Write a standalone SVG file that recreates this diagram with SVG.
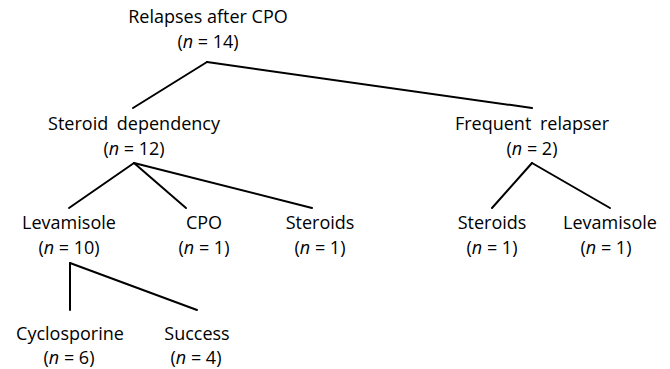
<svg xmlns="http://www.w3.org/2000/svg" width="670" height="369" viewBox="0 0 670 369">
<style>
text{font-family:"Open Sans","Noto Sans","DejaVu Sans",sans-serif;font-size:18px;fill:#000;text-anchor:middle}
.i{font-style:italic}
.w{word-spacing:4px}
.c line{stroke:#000;stroke-width:2;stroke-linecap:round}
</style>
<rect width="670" height="369" fill="#fff"/>
<g class="c" id="connectors">
<line x1="207" y1="62" x2="133" y2="108"/>
<line x1="207" y1="62" x2="532" y2="108"/>
<line x1="134" y1="163" x2="69" y2="208"/>
<line x1="134" y1="163" x2="186" y2="208"/>
<line x1="134" y1="163" x2="312" y2="208"/>
<line x1="532" y1="163" x2="492" y2="208"/>
<line x1="532" y1="163" x2="610" y2="208"/>
<line x1="70" y1="263" x2="70" y2="310"/>
<line x1="70" y1="263" x2="197" y2="310"/>
</g>
<g id="root"><text x="208" y="23">Relapses after CPO</text><text x="208" y="48">(<tspan class="i">n</tspan> = 14)</text></g>
<g id="steroid-dependency"><text class="w" x="134" y="130">Steroid dependency</text><text x="134" y="155">(<tspan class="i">n</tspan> = 12)</text></g>
<g id="frequent-relapser"><text class="w" x="532" y="130">Frequent relapser</text><text x="532" y="155">(<tspan class="i">n</tspan> = 2)</text></g>
<g id="levamisole-1"><text x="69" y="229">Levamisole</text><text x="69" y="254">(<tspan class="i">n</tspan> = 10)</text></g>
<g id="cpo"><text x="204" y="229">CPO</text><text x="204" y="254">(<tspan class="i">n</tspan> = 1)</text></g>
<g id="steroids-1"><text x="320" y="229">Steroids</text><text x="320" y="254">(<tspan class="i">n</tspan> = 1)</text></g>
<g id="steroids-2"><text x="492" y="229">Steroids</text><text x="492" y="254">(<tspan class="i">n</tspan> = 1)</text></g>
<g id="levamisole-2"><text x="610" y="229">Levamisole</text><text x="606" y="254">(<tspan class="i">n</tspan> = 1)</text></g>
<g id="cyclosporine"><text x="70" y="340">Cyclosporine</text><text x="69" y="364">(<tspan class="i">n</tspan> = 6)</text></g>
<g id="success"><text x="197" y="340">Success</text><text x="196" y="364">(<tspan class="i">n</tspan> = 4)</text></g>
</svg>
